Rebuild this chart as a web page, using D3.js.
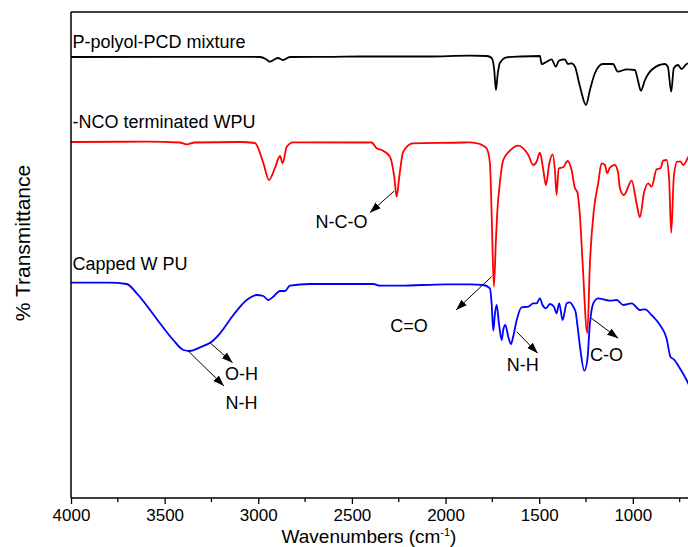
<!DOCTYPE html>
<html>
<head>
<meta charset="utf-8">
<script src="https://cdn.jsdelivr.net/npm/d3@7"></script>
<style>
  body { margin: 0; background: #fff; }
  text { font-family: "Liberation Sans", Arial, sans-serif; fill: #000; }
</style>
</head>
<body>
<svg width="688" height="547"></svg>
<script>
// FTIR spectra, [wavenumber, transmittance (a.u., stacked)]
const polyolSpectrum = [[4000,441],[3500,441.2],[3100,441.2],[2990,441],[2960,439],[2938,436.3],[2910,439],[2895,440],[2868,438],[2831,441],[2600,441.2],[2450,441.5],[2100,441.5],[1870,442.3],[1780,442],[1754,440],[1740,428],[1731,408],[1722,423],[1710,435],[1674,440.7],[1600,441.5],[1496,442],[1487,434],[1460,436.3],[1434,438.7],[1411,431.3],[1395,437.3],[1363,438.7],[1347,434],[1327,434.7],[1309,431.3],[1282,411.3],[1250,393],[1229,408],[1202,425],[1160,434],[1106,434],[1080,426.3],[1033,428.7],[989,428],[973,418],[957,407.3],[935,418],[900,428],[829,434],[813,431.3],[795,406.3],[781,430],[759,433],[740,429],[713,434],[700,435]];

const ncoSpectrum = [[4000,356],[3600,356.3],[3420,355.5],[3382,353.7],[3340,355.5],[3100,356],[3018,355],[2973,335],[2943,318],[2911,330],[2884,342],[2870,334.7],[2848,351.3],[2813,355.7],[2395,355.5],[2368,349.7],[2341,348],[2297,341.3],[2274,321.3],[2261,301.3],[2247,321.3],[2226,346.3],[2174,354.7],[1900,355.5],[1870,355.7],[1816,354],[1781,349.7],[1763,335],[1754,285],[1742,211.3],[1731,258],[1724,285],[1710,315],[1692,338],[1656,347.3],[1612,352.3],[1585,349.7],[1558,343],[1532,333],[1514,336.3],[1496,345.3],[1478,328],[1464,313],[1446,334.7],[1428,343.7],[1416,328],[1407,303],[1396,329.7],[1372,330.7],[1348,337],[1327,328],[1309,309.7],[1297,306.3],[1282,281.3],[1268,234.7],[1243,165],[1229,235],[1208,288],[1185,314.7],[1167,334.7],[1149,333],[1137,324.7],[1122,330.7],[1096,333],[1078,324.7],[1069,309.7],[1048,303],[1006,317.3],[980,294.7],[962,280.7],[941,304.7],[918,314.7],[900,311.3],[873,328.7],[852,329.7],[838,337.3],[820,338],[806,318],[795,265.3],[781,321.3],[763,336.3],[745,336.3],[731,333],[704,341.3]];

const cappedSpectrum = [[4000,215.3],[3800,215.3],[3703,214],[3649,204.7],[3525,174.7],[3454,158],[3400,148],[3365,147],[3311,150.7],[3249,156.3],[3204,164.7],[3133,183],[3062,198],[3009,203],[2973,202],[2947,198],[2920,201.3],[2884,207],[2857,207],[2831,212.3],[2724,214],[2386,214],[2350,212.3],[2243,212.3],[2000,213.7],[1870,213.7],[1799,213],[1763,209.7],[1754,194.7],[1745,167.3],[1736,184.7],[1727,193],[1715,174.7],[1700,158],[1692,168],[1681,173],[1665,161.3],[1651,154],[1639,161.3],[1620,178],[1594,190.7],[1558,191.3],[1532,194.7],[1514,194.7],[1496,199.7],[1482,193],[1464,189.7],[1443,194],[1421,191.3],[1407,184.7],[1393,194.7],[1375,178],[1353,194.7],[1336,195.7],[1318,191.3],[1304,184.7],[1297,174.7],[1282,151.3],[1259,127.3],[1243,138],[1229,174.7],[1211,194.7],[1185,199.7],[1158,198.7],[1122,197.3],[1086,198],[1051,193],[1006,194.7],[962,188],[935,188.7],[900,183],[855,173],[820,159.7],[798,140.7],[781,138.7],[749,129.7],[713,118],[700,113]];

const seriesNames = ["P-polyol-PCD mixture", "-NCO terminated WPU", "Capped W PU"];
const seriesColors = ["#000000", "#ff0000", "#0000ff"];
const seriesLabelY = [456, 376, 234];

// band assignments: arrow from [w, t] to [w, t], label at [w, t]
const bandNames = ["N-C-O", "C=O", "N-H", "C-O", "O-H", "N-H"];
const bandFrom = [[2274,307],[1754,221.3],[1620,166.3],[1225,180.3],[3258,155.3],[3374,147]];
const bandTo = [[2404,285.3],[1944,188],[1508,144.7],[1078,159.7],[3137,135.3],[3183,112]];
const bandLabel = [[2555,276.3],[2195,172],[1588,133],[1140,143],[3089,124.7],[3089,95.3]];

const majorTicks = [4000, 3500, 3000, 2500, 2000, 1500, 1000];
const minorTicks = [3750, 3250, 2750, 2250, 1750, 1250, 750];

const svg = d3.select("svg");
const mLeft = 71, mRight = 689, mTop = 12, mBottom = 498;

const x = d3.scaleLinear().domain([4000, 700]).range([mLeft, mRight]);
const y = d3.scaleLinear().domain([0, 486]).range([mBottom, mTop]);

const line = d3.line()
  .x(d => x(d[0]))
  .y(d => y(d[1]))
  .curve(d3.curveMonotoneX);

const spectra = [polyolSpectrum, ncoSpectrum, cappedSpectrum];
spectra.forEach((s, i) => {
  svg.append("path")
    .datum(s)
    .attr("fill", "none")
    .attr("stroke", seriesColors[i])
    .attr("stroke-width", 1.8)
    .attr("stroke-linejoin", "round")
    .attr("d", line);
  svg.append("text")
    .attr("x", x(3992))
    .attr("y", y(seriesLabelY[i]))
    .attr("dy", "0.35em")
    .attr("font-size", 18)
    .text(seriesNames[i]);
});

// arrow marker
svg.append("defs").append("marker")
  .attr("id", "arrow")
  .attr("viewBox", "0 0 10 10")
  .attr("refX", 10).attr("refY", 5)
  .attr("markerWidth", 11).attr("markerHeight", 11)
  .attr("markerUnits", "userSpaceOnUse")
  .attr("orient", "auto")
  .append("path")
  .attr("d", "M0,1.5 L10,5 L0,8.5 Z")
  .attr("fill", "#000");

bandNames.forEach((name, i) => {
  svg.append("line")
    .attr("x1", x(bandFrom[i][0])).attr("y1", y(bandFrom[i][1]))
    .attr("x2", x(bandTo[i][0])).attr("y2", y(bandTo[i][1]))
    .attr("stroke", "#000")
    .attr("stroke-width", 1)
    .attr("marker-end", "url(#arrow)");
  svg.append("text")
    .attr("x", x(bandLabel[i][0]))
    .attr("y", y(bandLabel[i][1]))
    .attr("dy", "0.35em")
    .attr("text-anchor", "middle")
    .attr("font-size", 18)
    .text(name);
});

// axes
const xAxis = d3.axisBottom(x).tickValues(majorTicks).tickSize(6).tickPadding(5).tickFormat(d3.format("d"));
const gx = svg.append("g").attr("transform", `translate(0,${mBottom})`).call(xAxis);
gx.select(".domain").remove();
gx.selectAll(".tick line").attr("stroke-width", 1.3);
gx.selectAll("text").attr("font-size", 17).attr("font-family", "Liberation Sans, Arial, sans-serif");

svg.append("g").attr("transform", `translate(0,${mBottom})`)
  .selectAll("line").data(minorTicks).join("line")
  .attr("x1", d => x(d)).attr("x2", d => x(d))
  .attr("y1", 0).attr("y2", 4)
  .attr("stroke", "#000").attr("stroke-width", 1.3);

svg.append("line").attr("x1", mLeft).attr("x2", 688).attr("y1", mBottom).attr("y2", mBottom)
  .attr("stroke", "#000").attr("stroke-width", 1.5);
svg.append("line").attr("x1", mLeft).attr("x2", 688).attr("y1", mTop).attr("y2", mTop)
  .attr("stroke", "#000").attr("stroke-width", 1.5);
svg.append("line").attr("x1", mLeft).attr("x2", mLeft).attr("y1", mTop).attr("y2", mBottom)
  .attr("stroke", "#000").attr("stroke-width", 1.5);

// axis titles
const xt = svg.append("text")
  .attr("x", 369).attr("y", 543)
  .attr("text-anchor", "middle")
  .attr("font-size", 19);
xt.append("tspan").text("Wavenumbers (cm");
xt.append("tspan").attr("font-size", 11).attr("dy", -7).text("-1");
xt.append("tspan").attr("dy", 7).text(")");

svg.append("text")
  .attr("transform", "translate(30,243) rotate(-90)")
  .attr("text-anchor", "middle")
  .attr("font-size", 21)
  .text("% Transmittance");
</script>
</body>
</html>
